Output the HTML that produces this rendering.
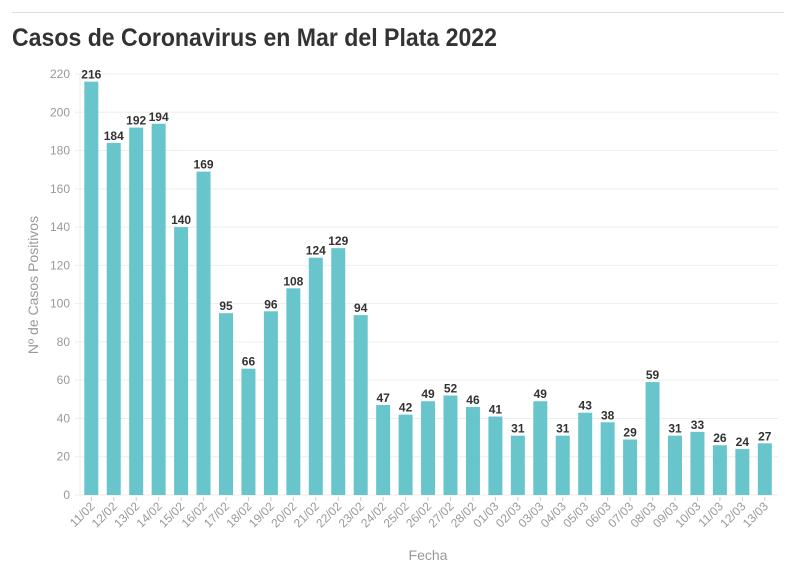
<!DOCTYPE html>
<html><head><meta charset="utf-8"><style>
body{margin:0;background:#fff;width:796px;height:575px;overflow:hidden;font-family:"Liberation Sans",sans-serif}
</style></head><body>
<svg width="796" height="575" xmlns="http://www.w3.org/2000/svg" font-family="Liberation Sans, sans-serif">
<line x1="12" y1="12.5" x2="784" y2="12.5" stroke="#ddd"/>
<text x="12" y="46" font-size="25" font-weight="bold" fill="#333" textLength="485" lengthAdjust="spacingAndGlyphs">Casos de Coronavirus en Mar del Plata 2022</text>
<g id="g"></g>
</svg>
<script>
const vals=[216,184,192,194,140,169,95,66,96,108,124,129,94,47,42,49,52,46,41,31,49,31,43,38,29,59,31,33,26,24,27];
const labs=["11/02","12/02","13/02","14/02","15/02","16/02","17/02","18/02","19/02","20/02","21/02","22/02","23/02","24/02","25/02","26/02","27/02","28/02","01/03","02/03","03/03","04/03","05/03","06/03","07/03","08/03","09/03","10/03","11/03","12/03","13/03"];
const y0=495,k=421/220;let s="";
for(let v=0;v<=220;v+=20){const y=y0-v*k;s+=`<line x1="75" y1="${y}" x2="778" y2="${y}" stroke="#eee"/><text x="70" y="${y+4}" font-size="12" fill="#999" text-anchor="end">${v}</text>`;}
s+=`<line x1="80" y1="74" x2="80" y2="495" stroke="#eee"/>`;
vals.forEach((v,i)=>{const cx=91.3+i*22.45,h=v*k;
s+=`<rect x="${cx-7}" y="${y0-h}" width="14" height="${h}" fill="#67c5cb"/>`;
s+=`<text x="${cx}" y="${y0-h-3}" font-size="12" font-weight="bold" fill="#333" text-anchor="middle">${v}</text>`;
s+=`<line x1="${cx}" y1="${y0+2}" x2="${cx}" y2="${y0+6}" stroke="#ccc"/>`;
s+=`<text transform="translate(${cx+4},${y0+12}) rotate(-45)" font-size="12" fill="#999" text-anchor="end">${labs[i]}</text>`;});
s+=`<text x="428" y="560" font-size="14" fill="#999" text-anchor="middle">Fecha</text>`;
s+=`<text transform="translate(38,285) rotate(-90)" font-size="14" fill="#999" text-anchor="middle">Nº de Casos Positivos</text>`;
document.getElementById("g").innerHTML=s;
</script>
</body></html>
